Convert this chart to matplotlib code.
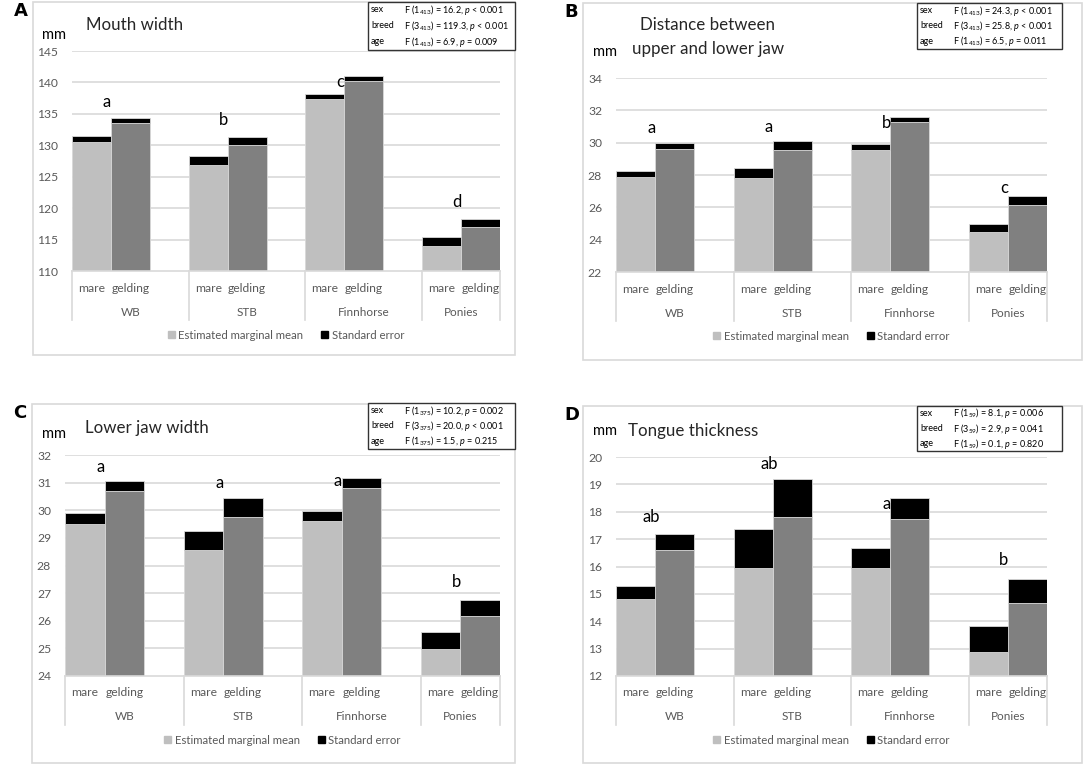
import matplotlib
matplotlib.use("Agg")
import matplotlib.pyplot as plt
from matplotlib.patches import Rectangle, Patch
from matplotlib.transforms import blended_transform_factory

plt.rcParams["font.family"] = ["Lato", "DejaVu Sans"]
plt.rcParams["mathtext.fontset"] = "custom"
plt.rcParams["mathtext.rm"] = "Lato"
plt.rcParams["mathtext.it"] = "Lato:italic"

W, H = 1084, 765

breeds = ["WB", "STB", "Finnhorse", "Ponies"]
sexes = ["mare", "gelding"]

# estimated marginal means (mare, gelding per breed) and standard errors
mouth_mean = [130.5, 133.6, 126.9, 130.0, 137.3, 140.3, 114.0, 117.0]
mouth_se = [0.9, 0.8, 1.4, 1.3, 0.8, 0.8, 1.35, 1.3]
mouth_letters = ["a", "b", "c", "d"]
mouth_letter_y = [136.9, 134.0, 140.0, 121.0]
mouth_stats = [("sex", r"F (1$_{413}$) = 16.2, $p$ < 0.001"),
               ("breed", r"F (3$_{413}$) = 119.3, $p$ < 0.001"),
               ("age", r"F (1$_{413}$) = 6.9, $p$ = 0.009")]

jaw_mean = [27.9, 29.62, 27.84, 29.54, 29.54, 31.25, 24.47, 26.17]
jaw_se = [0.35, 0.33, 0.57, 0.56, 0.35, 0.35, 0.53, 0.53]
jaw_letters = ["a", "a", "b", "c"]
jaw_letter_y = [30.9, 31.0, 31.2, 27.2]
jaw_stats = [("sex", r"F (1$_{413}$) = 24.3, $p$ < 0.001"),
             ("breed", r"F (3$_{413}$) = 25.8, $p$ < 0.001"),
             ("age", r"F (1$_{413}$) = 6.5, $p$ = 0.011")]

lower_mean = [29.52, 30.69, 28.56, 29.76, 29.6, 30.82, 24.97, 26.18]
lower_se = [0.37, 0.37, 0.68, 0.67, 0.39, 0.35, 0.61, 0.58]
lower_letters = ["a", "a", "a", "b"]
lower_letter_y = [31.55, 30.97, 31.06, 27.4]
lower_stats = [("sex", r"F (1$_{375}$) = 10.2, $p$ = 0.002"),
               ("breed", r"F (3$_{375}$) = 20.0, $p$ < 0.001"),
               ("age", r"F (1$_{375}$) = 1.5, $p$ = 0.215")]

tongue_mean = [14.82, 16.61, 15.95, 17.79, 15.95, 17.74, 12.88, 14.67]
tongue_se = [0.46, 0.56, 1.43, 1.41, 0.73, 0.76, 0.96, 0.87]
tongue_letters = ["ab", "ab", "a", "b"]
tongue_letter_y = [17.82, 19.76, 18.3, 16.23]
tongue_stats = [("sex", r"F (1$_{59}$) = 8.1, $p$ = 0.006"),
                ("breed", r"F (3$_{59}$) = 2.9, $p$ = 0.041"),
                ("age", r"F (1$_{59}$) = 0.1, $p$ = 0.820")]

LIGHT = "#bfbfbf"
DARK = "#808080"
GRID = "#d9d9d9"
TXT = "#595959"
TITLE_FS = 12.2

fig = plt.figure(figsize=(W / 100, H / 100), dpi=100)


def fx(x):
    return x / W


def fy(y):
    return 1 - y / H


def panel(letter, frame, plot, box, ylim, step, mean, se, letters, letter_y, stats):
    fx0, fy0, fx1, fy1 = frame
    fig.patches.append(Rectangle((fx(fx0), fy(fy1)), fx(fx1 - fx0), (fy1 - fy0) / H,
                                 transform=fig.transFigure, fill=False,
                                 edgecolor=GRID, lw=1.2))
    fig.text(fx(fx0 - 19), fy(fy0 + 9), letter, fontsize=13, fontweight="bold",
             family="DejaVu Sans", ha="left", va="center")

    x0, x1, ytop, ybot = plot
    ax = fig.add_axes([fx(x0), fy(ybot), fx(x1 - x0), (ybot - ytop) / H])
    hpx = ybot - ytop

    pos = []
    for i in range(len(breeds)):
        for j in range(len(sexes)):
            pos.append(i * 3 + j + 0.5)
    cols = [LIGHT, DARK] * len(breeds)
    ax.bar(pos, [m - ylim[0] for m in mean], bottom=ylim[0], width=1.0,
           color=cols, edgecolor=GRID, lw=0.6, zorder=2)
    ax.bar(pos, se, bottom=mean, width=1.0, color="black",
           edgecolor=GRID, lw=0.6, zorder=2)

    ax.set_xlim(0, 11)
    ax.set_ylim(*ylim)
    ticks = []
    v = ylim[0]
    while v <= ylim[1] + 1e-9:
        ticks.append(v)
        v += step
    ax.set_yticks(ticks)
    ax.set_yticklabels([f"{t:g}" for t in ticks], fontsize=8.7, color=TXT)
    ax.tick_params(axis="y", length=0, pad=10)
    ax.set_xticks([])
    for t in ticks[1:]:
        ax.axhline(t, color=GRID, lw=1.2, zorder=1)
    for s in ["top", "right", "left"]:
        ax.spines[s].set_visible(False)
    ax.spines["bottom"].set_color(GRID)
    ax.spines["bottom"].set_linewidth(1.2)
    ax.patch.set_alpha(0)

    tr = blended_transform_factory(ax.transData, ax.transAxes)
    for k, p in enumerate(pos):
        ax.text(p, -17 / hpx, sexes[k % 2], transform=tr, ha="center",
                va="center", fontsize=8.7, color=TXT)
    centers = [1.5, 4.5, 7.5, 10]
    for c, b in zip(centers, breeds):
        ax.text(c, -41 / hpx, b, transform=tr, ha="center", va="center",
                fontsize=8.5, color=TXT)
    for s in [0, 3, 6, 9, 11]:
        ax.plot([s, s], [0, -49 / hpx], transform=tr, color=GRID, lw=1.2,
                clip_on=False)

    for i, (lt, ly) in enumerate(zip(letters, letter_y)):
        ax.text(i * 3 + 0.9, ly, lt, ha="center", va="center", fontsize=12,
                zorder=3)

    handles = [Patch(color=LIGHT, label="Estimated marginal mean"),
               Patch(color="black", label="Standard error")]
    ax.legend(handles=handles, ncol=2, frameon=False, loc="center",
              bbox_to_anchor=(0.5, -64 / hpx), fontsize=8.2, handlelength=0.6,
              handleheight=0.6, handletextpad=0.3, columnspacing=1.6,
              labelcolor=TXT)

    bx0, by0, bx1, by1 = box
    fig.patches.append(Rectangle((fx(bx0), fy(by1)), fx(bx1 - bx0), (by1 - by0) / H,
                                 transform=fig.transFigure, facecolor="white",
                                 edgecolor="#333333", lw=1.0, zorder=5))
    dy = (by1 - by0) / 3
    for k, (name, txt) in enumerate(stats):
        yy = fy(by0 + dy * (k + 0.5))
        fig.text(fx(bx0 + 3), yy, name, fontsize=6.5, va="center", zorder=6)
        fig.text(fx(bx0 + 36), yy, txt, fontsize=6.5, va="center", zorder=6)
    return ax


panel("A", (33, 2, 515, 355), (72, 500, 51, 271), (368, 2, 515, 50),
      (110, 145), 5, mouth_mean, mouth_se, mouth_letters, mouth_letter_y, mouth_stats)
fig.text(fx(86), fy(25), "Mouth width", fontsize=TITLE_FS, color="#262626", va="center")
fig.text(fx(42), fy(35), "mm", fontsize=10.5, va="center")

panel("B", (583, 3, 1082, 360), (616, 1047, 78, 272), (917, 3, 1062, 49),
      (22, 34), 2, jaw_mean, jaw_se, jaw_letters, jaw_letter_y, jaw_stats)
fig.text(fx(708), fy(25), "Distance between", fontsize=TITLE_FS, color="#262626",
         va="center", ha="center")
fig.text(fx(708), fy(49), "upper and lower jaw", fontsize=TITLE_FS, color="#262626",
         va="center", ha="center")
fig.text(fx(593), fy(52), "mm", fontsize=10.5, va="center")

panel("C", (32, 404, 515, 763), (65, 500, 455, 676), (368, 403, 515, 449),
      (24, 32), 1, lower_mean, lower_se, lower_letters, lower_letter_y, lower_stats)
fig.text(fx(85), fy(428), "Lower jaw width", fontsize=TITLE_FS, color="#262626", va="center")
fig.text(fx(42), fy(434), "mm", fontsize=10.5, va="center")

panel("D", (583, 406, 1082, 763), (616, 1047, 457, 676), (917, 406, 1062, 451),
      (12, 20), 1, tongue_mean, tongue_se, tongue_letters, tongue_letter_y, tongue_stats)
fig.text(fx(628), fy(431), "Tongue thickness", fontsize=TITLE_FS, color="#262626", va="center")
fig.text(fx(593), fy(431), "mm", fontsize=10.5, va="center")

fig.savefig("out.png", dpi=100)
